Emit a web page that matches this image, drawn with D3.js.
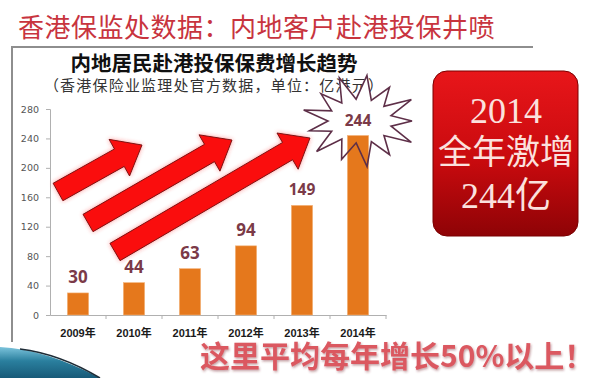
<!DOCTYPE html>
<html>
<head>
<meta charset="utf-8">
<script src="https://cdn.jsdelivr.net/npm/d3@7"></script>
<style>
  body { margin: 0; background: #fff; }
  svg { display: block; }
</style>
</head>
<body>
<script>
// chart data
const years = ["2009年", "2010年", "2011年", "2012年", "2013年", "2014年"];
const premiums = [30, 44, 63, 94, 149, 244];
const yTicks = [0, 40, 80, 120, 160, 200, 240, 280];

const title = "香港保监处数据：内地客户赴港投保井喷";
const subtitle = "内地居民赴港投保保费增长趋势";
const note = "（香港保险业监理处官方数据，单位：亿港元）";
const boxLines = ["2014", "全年激增", "244亿"];
const footer = "这里平均每年增长50%以上！";

const width = 608, height = 378;
const svg = d3.select("body").append("svg")
    .attr("width", width)
    .attr("height", height);

const defs = svg.append("defs");

// glow for the arrows
const glow = defs.append("filter").attr("id", "glow")
    .attr("x", "-20%").attr("y", "-20%").attr("width", "140%").attr("height", "140%");
glow.append("feGaussianBlur").attr("in", "SourceAlpha").attr("stdDeviation", 2.2).attr("result", "b");
glow.append("feFlood").attr("flood-color", "#ff3030").attr("flood-opacity", 0.5);
glow.append("feComposite").attr("in2", "b").attr("operator", "in").attr("result", "g");
const gm = glow.append("feMerge");
gm.append("feMergeNode").attr("in", "g");
gm.append("feMergeNode").attr("in", "SourceGraphic");

// shadow for the footer text
const sh = defs.append("filter").attr("id", "shadow")
    .attr("x", "-5%").attr("y", "-20%").attr("width", "110%").attr("height", "150%");
sh.append("feDropShadow").attr("dx", 1).attr("dy", 1.5).attr("stdDeviation", 1)
    .attr("flood-color", "#7a2a30").attr("flood-opacity", 0.45);

// box gradient
const boxGrad = defs.append("linearGradient").attr("id", "boxGrad")
    .attr("x1", 0).attr("y1", 0).attr("x2", 0).attr("y2", 1);
boxGrad.append("stop").attr("offset", "0%").attr("stop-color", "#e8161a");
boxGrad.append("stop").attr("offset", "55%").attr("stop-color", "#c80a0e");
boxGrad.append("stop").attr("offset", "100%").attr("stop-color", "#8e0306");

// teal swoosh gradient
const tealGrad = defs.append("linearGradient").attr("id", "tealGrad")
    .attr("x1", 0).attr("y1", 0).attr("x2", 0).attr("y2", 1);
tealGrad.append("stop").attr("offset", "0%").attr("stop-color", "#7cc4dc");
tealGrad.append("stop").attr("offset", "45%").attr("stop-color", "#2a7f9e");
tealGrad.append("stop").attr("offset", "100%").attr("stop-color", "#175a78");

// main title
svg.append("text")
    .attr("x", 18).attr("y", 37)
    .attr("font-family", "'Noto Sans CJK SC'")
    .attr("font-size", 26)
    .attr("letter-spacing", 0.5)
    .attr("fill", "#c8343e")
    .text(title);

// frame lines of the inner slide
svg.append("path")
    .attr("d", "M12,342 L12,47 L533,47")
    .attr("fill", "none")
    .attr("stroke", "#8e8e8e")
    .attr("stroke-width", 2);

// chart titles
svg.append("text")
    .attr("x", 214).attr("y", 71)
    .attr("text-anchor", "middle")
    .attr("font-family", "'Noto Sans CJK SC'")
    .attr("font-weight", "bold")
    .attr("font-size", 20.5)
    .attr("fill", "#111")
    .text(subtitle);

svg.append("text")
    .attr("x", 214).attr("y", 91)
    .attr("text-anchor", "middle")
    .attr("font-family", "'Noto Sans CJK SC'")
    .attr("font-size", 15)
    .attr("letter-spacing", 1.2)
    .attr("fill", "#333")
    .text(note);

// scales
const x = d3.scaleBand().domain(years).range([50, 386]).paddingInner(0.62).paddingOuter(0.31);
const y = d3.scaleLinear().domain([0, 280]).range([315, 109]);

// axes
const yAxis = svg.append("g")
    .attr("transform", "translate(50,0)")
    .call(d3.axisLeft(y).tickValues(yTicks).tickSize(4).tickPadding(7));
yAxis.select(".domain").attr("stroke", "#b0b0b0");
yAxis.selectAll(".tick line").attr("stroke", "#b0b0b0");
yAxis.selectAll("text")
    .attr("font-family", "'DejaVu Sans'")
    .attr("font-size", 9.5)
    .attr("fill", "#555");

const xAxis = svg.append("g")
    .attr("transform", "translate(0,315)")
    .call(d3.axisBottom(x).tickSize(0).tickPadding(14));
xAxis.select(".domain").attr("stroke", "#b0b0b0");
xAxis.selectAll("text")
    .attr("font-family", "'Liberation Sans', 'Noto Sans CJK SC'")
    .attr("font-weight", "bold")
    .attr("font-size", 11)
    .attr("fill", "#1a1a1a");
// small separators between categories
svg.append("g").selectAll("line")
    .data(years)
    .join("line")
    .attr("x1", d => x(d) + x.bandwidth() + x.step() * x.paddingInner() / 2)
    .attr("x2", d => x(d) + x.bandwidth() + x.step() * x.paddingInner() / 2)
    .attr("y1", 315).attr("y2", 319)
    .attr("stroke", "#b0b0b0");

// arrows
function arrowPath(x0, y0, x1, y1) {
    const dx = x1 - x0, dy = y1 - y0, len = Math.hypot(dx, dy);
    const ux = dx / len, uy = dy / len, nx = -uy, ny = ux;
    const w = 10, h = 21, L = 26;
    const bx = x1 - ux * L, by = y1 - uy * L;
    const p = [
        [x0 + nx * w, y0 + ny * w],
        [bx + nx * w, by + ny * w],
        [bx + nx * h, by + ny * h],
        [x1, y1],
        [bx - nx * h, by - ny * h],
        [bx - nx * w, by - ny * w],
        [x0 - nx * w, y0 - ny * w]
    ];
    return "M" + p.map(q => q.join(",")).join("L") + "Z";
}
const arrows = [
    [58, 192, 142, 145],
    [88, 223, 232, 140],
    [115, 252, 310, 138]
];
svg.append("g").selectAll("path")
    .data(arrows)
    .join("path")
    .attr("d", d => arrowPath(...d))
    .attr("fill", "#fa0808")
    .attr("stroke", "#6a1010")
    .attr("stroke-width", 0.9)
    .attr("filter", "url(#glow)");

// starburst behind the last value
const sx = 360, sy = 121, nPts = 13;
const starPts = d3.range(nPts * 2).map(i => {
    const a = -Math.PI / 2 + 0.12 + i * Math.PI / nPts;
    const outer = i % 2 === 0;
    const rx = outer ? (i % 4 === 0 ? 58 : 52) : 32;
    const ry = outer ? (i % 4 === 0 ? 46 : 41) : 22;
    return [sx + rx * Math.cos(a), sy + ry * Math.sin(a)];
});
const starD = "M" + starPts.map(p => p.join(",")).join("L") + "Z";
svg.append("path").attr("d", starD).attr("fill", "#fff");

// bars
svg.append("g").selectAll("rect")
    .data(premiums)
    .join("rect")
    .attr("x", (d, i) => x(years[i]))
    .attr("y", d => y(d))
    .attr("width", x.bandwidth())
    .attr("height", d => y(0) - y(d))
    .attr("fill", "#e5781c")
    .attr("stroke", "#f3b47c")
    .attr("stroke-width", 0.6);

svg.append("path")
    .attr("d", starD)
    .attr("fill", "none")
    .attr("stroke", "#5e2f48")
    .attr("stroke-width", 1.6)
    .attr("stroke-linejoin", "miter");

// value labels
svg.append("g").selectAll("text")
    .data(premiums)
    .join("text")
    .attr("x", (d, i) => x(years[i]) + x.bandwidth() / 2)
    .attr("y", (d, i) => i === premiums.length - 1 ? 126 : y(d) - 10)
    .attr("text-anchor", "middle")
    .attr("font-family", "'Open Sans'")
    .attr("font-weight", "bold")
    .attr("font-size", (d, i) => i < 4 ? 17 : 15.5)
    .attr("fill", "#7b3a48")
    .text(d => d);

// red callout box
svg.append("rect")
    .attr("x", 433).attr("y", 71)
    .attr("width", 145).attr("height", 165)
    .attr("rx", 14)
    .attr("fill", "url(#boxGrad)")
    .attr("stroke", "#7a0000")
    .attr("stroke-width", 1);
svg.append("g").selectAll("text")
    .data(boxLines)
    .join("text")
    .attr("x", 506)
    .attr("y", (d, i) => [123, 164, 208][i])
    .attr("text-anchor", "middle")
    .attr("font-family", "'Liberation Serif', 'Times New Roman', 'Noto Sans CJK SC', serif")
    .attr("font-size", (d, i) => i === 1 ? 34 : 36)
    .attr("fill", "#fbe1de")
    .text(d => d);

// teal swoosh bottom-left
svg.append("path")
    .attr("d", "M0,347 Q45,349 100,378 L0,378 Z")
    .attr("fill", "url(#tealGrad)");
svg.append("path")
    .attr("d", "M20,349 Q60,354 100,378")
    .attr("fill", "none")
    .attr("stroke", "#1d2b36")
    .attr("stroke-width", 1.5);

// footer
svg.append("text")
    .attr("x", 200).attr("y", 367)
    .attr("font-family", "'Noto Sans CJK SC'")
    .attr("font-weight", "bold")
    .attr("font-size", 30)
    .attr("fill", "#db5861")
    .attr("filter", "url(#shadow)")
    .text(footer);
</script>
</body>
</html>
